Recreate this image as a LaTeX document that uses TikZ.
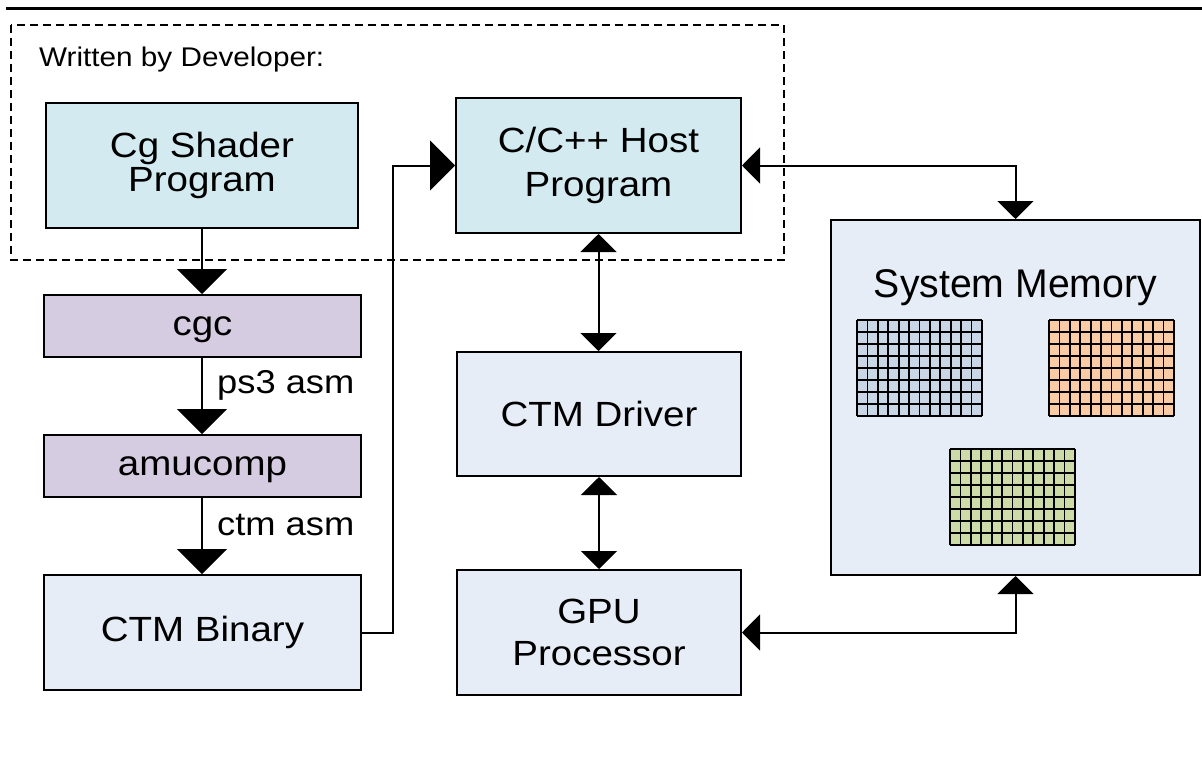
\documentclass[tikz,border=0pt]{standalone}
\usepackage{fontspec}
\setmainfont{Liberation Sans}[FakeStretch=1.1]
\newfontfamily\memfont{Liberation Sans}[FakeStretch=0.98]
\usetikzlibrary{arrows.meta}
\definecolor{cyanfill}{RGB}{210,234,240}
\definecolor{purplefill}{RGB}{213,204,225}
\definecolor{bluefill}{RGB}{230,237,247}
\definecolor{gridblue}{RGB}{201,214,230}
\definecolor{gridorange}{RGB}{251,203,165}
\definecolor{gridgreen}{RGB}{205,219,168}
\tikzset{
  tri/.tip={Triangle[width=36pt,length=18pt]},
  bigtri/.tip={Triangle[width=50pt,length=25pt]},
}
\begin{document}
\begin{tikzpicture}[x=1pt,y=-1pt,
  box/.style={draw=black, line width=2pt, inner sep=0pt, align=center, font=\fontsize{35}{34}\selectfont},
  conn/.style={draw=black, line width=2pt},
  lbl/.style={anchor=base west, inner sep=0pt, font=\fontsize{33}{33}\selectfont},
  gridline/.style={draw=black, line width=1.8pt},
]
\useasboundingbox (0,0) rectangle (1202,771);
\fill[white] (0,0) rectangle (1202,771);
% top rule
\draw[line width=3pt] (6,8) -- (1202,8);
% developer region
\draw[line width=1.5pt, dash pattern=on 8pt off 5pt] (11,25) rectangle (784,260);
\node[anchor=base west, inner sep=0pt, font=\fontsize{27}{27}\selectfont] (wbd) at (39,66) {Written by Developer:};

% boxes
\node[box, fill=cyanfill, minimum width=312pt, minimum height=125pt] (cg) at (202,165.5) {Cg Shader\\Program};
\node[box, fill=cyanfill, minimum width=285pt, minimum height=135pt, font=\fontsize{35}{44}\selectfont] (host) at (598.5,165.5) {C/C++ Host\\Program};
\node[box, fill=purplefill, minimum width=317pt, minimum height=62pt, text depth=0pt] (cgc) at (202.5,326) {cgc};
\node[box, fill=purplefill, minimum width=317pt, minimum height=62pt, text depth=0pt] (amu) at (202.5,466) {amucomp};
\node[box, fill=bluefill, minimum width=317pt, minimum height=115pt] (bin) at (202.5,632.5) {CTM Binary};
\node[box, fill=bluefill, minimum width=284pt, minimum height=124pt] (drv) at (599,414) {CTM Driver};
\node[box, fill=bluefill, minimum width=284pt, minimum height=125pt, font=\fontsize{35}{42}\selectfont] (gpu) at (599,632.5) {GPU\\Processor};
\node[box, fill=bluefill, minimum width=369pt, minimum height=355pt] (mem) at (1015.5,397.5) {};
\node[anchor=base, inner sep=0pt, font=\memfont\fontsize{40}{40}\selectfont] (memtitle) at (1015.5,297) {System Memory};

% memory grids
\foreach \gx/\gy/\gc in {857/320/gridblue,1049/320/gridorange,950/449/gridgreen}{
  \fill[fill=\gc] (\gx,\gy) rectangle ++(125,96);
  \foreach \i in {0,...,12} \draw[gridline] (\gx+\i*10.4167,\gy) -- ++(0,96);
  \foreach \j in {0,...,8} \draw[gridline] (\gx,\gy+\j*12) -- ++(125,0);
}

% compile chain
\draw[conn, -bigtri] (cg.south) -- (cg.south |- cgc.north);
\draw[conn, -bigtri] (cg.south |- cgc.south) -- (cg.south |- amu.north);
\draw[conn, -bigtri] (cg.south |- amu.south) -- (cg.south |- bin.north);
\node[lbl] (ps3) at (217,393) {ps3 asm};
\node[lbl] (ctmasm) at (217,535) {ctm asm};

% binary to host
\draw[conn, -bigtri] (bin.east) -- ++(31,0) |- (host.west);

% host <-> driver <-> gpu
\draw[conn, tri-tri] (host.south) -- (host.south |- drv.north);
\draw[conn, tri-tri] (drv.south) -- (drv.south |- gpu.north);

% memory links
\draw[conn, tri-tri] (host.east) -| (mem.north);
\draw[conn, tri-tri] (gpu.east) -| (mem.south);
\end{tikzpicture}
\end{document}
